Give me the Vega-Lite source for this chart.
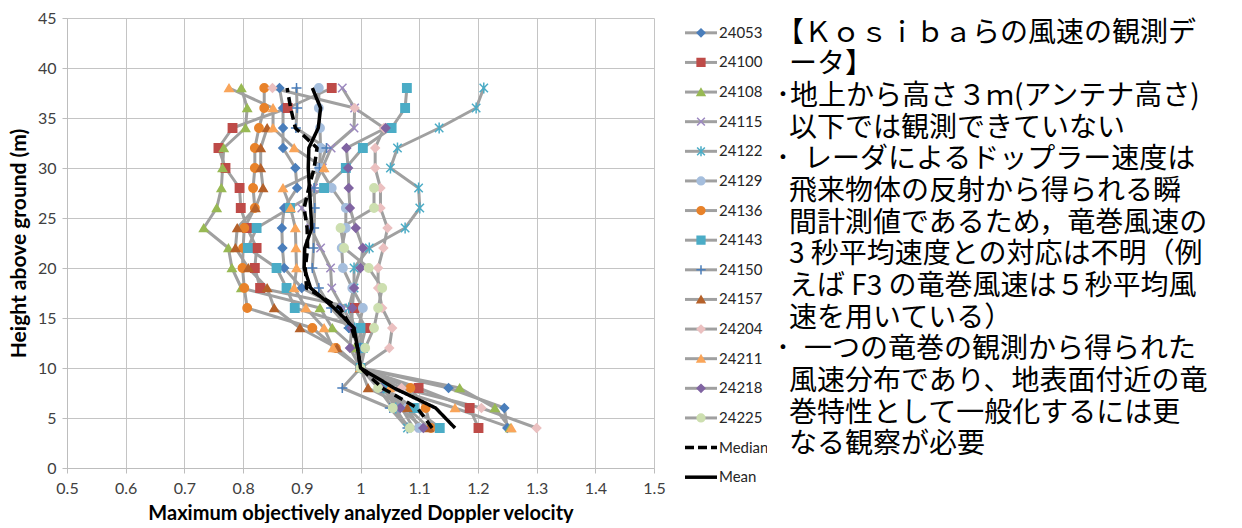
{
  "$schema": "https://vega.github.io/schema/vega-lite/v6.json",
  "padding": {"left": 8, "top": 10, "right": 0, "bottom": 0},
  "background": "white",
  "bounds": "flush",
  "spacing": 9,
  "config": {"view": {"stroke": null}, "font": "Lato"},
  "resolve": {"scale": {"x": "independent", "y": "independent", "shape": "independent", "fill": "independent", "stroke": "independent"}},
  "datasets": {
    "prof": [
      {"h":38,"24053":0.862,"24100":0.951,"24108":0.797,"24115":0.969,"24122":1.21,"24129":0.929,"24136":0.836,"24143":1.079,"24150":0.891,"24204":0.85,"24211":0.776,"Median":0.875,"Mean":0.918},
      {"h":36,"24053":0.868,"24100":0.876,"24108":0.807,"24115":0.99,"24122":1.197,"24129":0.929,"24136":0.836,"24143":1.076,"24150":0.892,"24204":0.99,"24211":0.851,"Median":0.881,"Mean":0.932},
      {"h":34,"24053":0.868,"24100":0.782,"24108":0.804,"24115":0.989,"24122":1.134,"24129":0.931,"24136":0.827,"24143":1.053,"24150":0.89,"24157":0.841,"24204":1.04,"24211":0.851,"24218":1.043,"Median":0.889,"Mean":0.928},
      {"h":32,"24053":0.868,"24100":0.758,"24108":0.767,"24115":0.95,"24122":1.063,"24129":0.932,"24136":0.82,"24143":1.004,"24150":0.942,"24157":0.83,"24204":1.025,"24211":0.887,"24218":0.976,"Median":0.926,"Mean":0.912},
      {"h":30,"24053":0.889,"24100":0.77,"24108":0.765,"24115":0.935,"24122":1.051,"24129":0.93,"24136":0.82,"24143":0.975,"24150":0.93,"24157":0.83,"24204":1.025,"24211":0.938,"24218":0.979,"Median":0.921,"Mean":0.911},
      {"h":28,"24053":0.892,"24100":0.794,"24108":0.763,"24115":0.92,"24122":1.099,"24129":0.951,"24136":0.817,"24143":0.938,"24150":0.921,"24157":0.834,"24204":1.034,"24211":0.868,"24218":0.98,"24225":1.023,"Median":0.912,"Mean":0.913},
      {"h":26,"24053":0.87,"24100":0.796,"24108":0.755,"24115":0.9,"24122":1.101,"24129":0.975,"24136":0.82,"24143":0.88,"24150":0.922,"24157":0.821,"24204":1.034,"24211":0.881,"24218":0.982,"24225":1.023,"Median":0.904,"Mean":0.915},
      {"h":24,"24053":0.866,"24100":0.807,"24108":0.733,"24115":0.915,"24122":1.076,"24129":0.975,"24136":0.802,"24143":0.823,"24150":0.921,"24157":0.79,"24204":1.046,"24211":0.889,"24218":0.992,"24225":0.966,"Median":0.909,"Mean":0.917},
      {"h":22,"24053":0.867,"24100":0.823,"24108":0.775,"24115":0.932,"24122":1.015,"24129":0.968,"24136":0.8,"24143":0.808,"24150":0.92,"24157":0.787,"24204":1.039,"24211":0.89,"24218":1.004,"24225":0.972,"Median":0.91,"Mean":0.905},
      {"h":20,"24053":0.87,"24100":0.82,"24108":0.781,"24115":0.949,"24122":0.989,"24129":0.97,"24136":0.799,"24143":0.857,"24150":0.918,"24157":0.809,"24204":1.03,"24211":0.891,"24218":1.0,"24225":1.014,"Median":0.906,"Mean":0.904},
      {"h":18,"24053":0.9,"24100":0.829,"24108":0.797,"24115":0.951,"24122":0.989,"24129":0.986,"24136":0.802,"24143":0.874,"24150":0.929,"24157":0.841,"24204":1.03,"24211":0.887,"24218":0.989,"24225":1.037,"Median":0.908,"Mean":0.915},
      {"h":16,"24053":0.965,"24100":0.99,"24108":0.931,"24115":0.97,"24122":0.98,"24129":1.004,"24136":0.807,"24143":0.888,"24150":0.95,"24157":0.853,"24204":1.037,"24211":0.907,"24218":0.986,"24225":1.03,"Median":0.965,"Mean":0.955},
      {"h":14,"24053":0.98,"24100":1.009,"24108":0.952,"24115":0.99,"24122":0.99,"24129":0.997,"24136":0.918,"24143":1.0,"24150":0.98,"24157":0.897,"24204":1.054,"24211":0.938,"24218":0.985,"24225":1.023,"Median":0.985,"Mean":0.989},
      {"h":12,"24053":1.0,"24100":1.0,"24108":0.99,"24115":1.0,"24122":1.0,"24129":1.004,"24136":0.958,"24143":1.004,"24150":1.0,"24157":0.96,"24204":1.049,"24211":0.953,"24218":0.982,"24225":1.008,"Median":0.995,"Mean":0.995},
      {"h":10,"24053":1,"24100":1,"24108":1,"24115":1,"24122":1,"24129":1,"24136":1,"24143":1,"24150":1,"24157":1,"24204":1,"24211":1,"24218":1,"24225":1,"Median":1,"Mean":1},
      {"h":8,"24053":1.15,"24100":1.099,"24108":1.169,"24115":1.04,"24122":1.04,"24129":1.04,"24136":1.085,"24143":1.04,"24150":0.969,"24157":1.013,"24204":1.07,"24211":1.05,"24218":1.035,"24225":1.03,"Median":1.037,"Mean":1.057},
      {"h":6,"24053":1.245,"24100":1.186,"24108":1.229,"24115":1.07,"24122":1.06,"24129":1.08,"24136":1.111,"24143":1.091,"24150":1.05,"24157":1.08,"24204":1.206,"24211":1.161,"24218":1.068,"24225":1.055,"Median":1.097,"Mean":1.128},
      {"h":4,"24053":1.25,"24100":1.201,"24108":1.255,"24115":1.09,"24122":1.08,"24129":1.1,"24136":1.12,"24143":1.135,"24150":1.08,"24157":1.117,"24204":1.3,"24211":1.257,"24218":1.107,"24225":1.084,"Median":1.122,"Mean":1.161}
    ],
    "leg": [
      {"s":"24053"},{"s":"24100"},{"s":"24108"},{"s":"24115"},{"s":"24122"},{"s":"24129"},{"s":"24136"},{"s":"24143"},{"s":"24150"},{"s":"24157"},{"s":"24204"},{"s":"24211"},{"s":"24218"},{"s":"24225"},{"s":"Median"},{"s":"Mean"}
    ],
    "txt": [
      {"n":1,"b":1,"t":"【Ｋｏｓｉｂａらの風速の観測デ"},
      {"n":2,"b":0,"t":"ータ】"},
      {"n":3,"b":1,"t":"･地上から高さ３ｍ(アンテナ高さ)"},
      {"n":4,"b":0,"t":"以下では観測できていない"},
      {"n":5,"b":1,"t":"･\u2002レーダによるドップラー速度は"},
      {"n":6,"b":0,"t":"飛来物体の反射から得られる瞬"},
      {"n":7,"b":0,"t":"間計測値であるため，竜巻風速の"},
      {"n":8,"b":0,"t":"3 秒平均速度との対応は不明（例"},
      {"n":9,"b":0,"t":"えば F3 の竜巻風速は５秒平均風"},
      {"n":10,"b":0,"t":"速を用いている）"},
      {"n":11,"b":1,"t":"･\u2002一つの竜巻の観測から得られた"},
      {"n":12,"b":0,"t":"風速分布であり、地表面付近の竜"},
      {"n":13,"b":0,"t":"巻特性として一般化するには更"},
      {"n":14,"b":0,"t":"なる観察が必要"}
    ]
  },
  "hconcat": [
    {
      "width": 587,
      "height": 450,
      "data": {"name": "prof"},
      "transform": [
        {"fold": ["24053","24100","24108","24115","24122","24129","24136","24143","24150","24157","24204","24211","24218","24225","Median","Mean"], "as": ["s","v"]},
        {"filter": "isValid(datum.v)"}
      ],
      "encoding": {
        "x": {"field": "v", "type": "quantitative",
          "scale": {"domain": [0.5, 1.5], "nice": false, "zero": false},
          "axis": {"values": [0.5,0.6,0.7,0.8,0.9,1,1.1,1.2,1.3,1.4,1.5], "format": ".1~f",
            "title": "Maximum objectively analyzed Doppler velocity",
            "titleFont": "Lato", "titleFontSize": 20, "titleFontWeight": "bold", "titleColor": "#000000", "titlePadding": 7,
            "labelFont": "Lato", "labelFontSize": 16, "labelColor": "#404040", "labelPadding": 7, "labelFlush": false,
            "tickSize": 5, "tickColor": "#bdbdbd", "domainColor": "#bdbdbd", "grid": true, "gridColor": "#c4c4c4"}},
        "y": {"field": "h", "type": "quantitative",
          "scale": {"domain": [0, 45], "nice": false},
          "axis": {"values": [0,5,10,15,20,25,30,35,40,45],
            "title": "Height above ground (m)",
            "titleFont": "Lato", "titleFontSize": 21, "titleFontWeight": "bold", "titleColor": "#000000", "titlePadding": 8,
            "labelFont": "Lato", "labelFontSize": 16, "labelColor": "#404040", "labelPadding": 6, "labelFlush": false,
            "tickSize": 5, "tickColor": "#bdbdbd", "domainColor": "#bdbdbd", "grid": true, "gridColor": "#c4c4c4"}}
      },
      "layer": [
        {
          "transform": [{"filter": "datum.s != 'Median' && datum.s != 'Mean'"}],
          "mark": {"type": "line", "color": "#a0a0a0", "strokeWidth": 3, "strokeJoin": "round", "strokeCap": "round"},
          "encoding": {"detail": {"field": "s"}, "order": {"field": "h"}}
        },
        {
          "transform": [{"filter": "datum.s != 'Median' && datum.s != 'Mean'"}],
          "mark": {"type": "point", "filled": true, "opacity": 1, "size": 70, "strokeWidth": 1.5},
          "encoding": {
            "shape": {"field": "s", "type": "nominal", "legend": null, "scale": {
              "domain": ["24053","24100","24108","24115","24122","24129","24136","24143","24150","24157","24204","24211","24218","24225"],
              "range": ["diamond","square","triangle-up","M-1,-1L1,1M-1,1L1,-1","M-1,-1L1,1M-1,1L1,-1M0,-1.3L0,1.3","circle","circle","square","M-1.2,0L1.2,0M0,-1.2L0,1.2","triangle-up","diamond","triangle-up","diamond","circle"]}},
            "fill": {"field": "s", "type": "nominal", "legend": null, "scale": {
              "domain": ["24053","24100","24108","24115","24122","24129","24136","24143","24150","24157","24204","24211","24218","24225"],
              "range": ["#4a7ebb","#be4b48","#98b954","#9c88c0","#4bacc6","#a5bedd","#e8822a","#4bacc6","#4a7ebb","#b5612a","#ebc0c0","#f9a55a","#8064a2","#cddfb0"]}},
            "stroke": {"field": "s", "type": "nominal", "legend": null, "scale": {
              "domain": ["24053","24100","24108","24115","24122","24129","24136","24143","24150","24157","24204","24211","24218","24225"],
              "range": ["#4a7ebb","#be4b48","#98b954","#9c88c0","#4bacc6","#a5bedd","#e8822a","#4bacc6","#4a7ebb","#b5612a","#ebc0c0","#f9a55a","#8064a2","#cddfb0"]}}
          }
        },
        {
          "transform": [{"filter": "datum.s == 'Median' || datum.s == 'Mean'"}],
          "mark": {"type": "line", "color": "#000000", "strokeWidth": 3.5, "strokeJoin": "round"},
          "encoding": {
            "detail": {"field": "s"},
            "order": {"field": "h"},
            "strokeDash": {"field": "s", "type": "nominal", "legend": null, "scale": {"domain": ["Median","Mean"], "range": [[9,5],[1,0]]}}
          }
        }
      ]
    },
    {
      "width": 104,
      "height": 474,
      "data": {"name": "leg"},
      "encoding": {
        "y": {"field": "s", "type": "nominal", "sort": null, "axis": null,
          "scale": {"type": "point", "padding": 0.5,
            "domain": ["24053","24100","24108","24115","24122","24129","24136","24143","24150","24157","24204","24211","24218","24225","Median","Mean"]}}
      },
      "layer": [
        {
          "transform": [{"filter": "datum.s != 'Median' && datum.s != 'Mean'"}],
          "mark": {"type": "rule", "color": "#a0a0a0", "strokeWidth": 3},
          "encoding": {"x": {"datum": 22, "type": "quantitative", "scale": {"domain": [0, 104]}, "axis": null}, "x2": {"datum": 54}}
        },
        {
          "transform": [{"filter": "datum.s == 'Median'"}],
          "mark": {"type": "rule", "color": "#000000", "strokeWidth": 3.5, "strokeDash": [9, 4]},
          "encoding": {"x": {"datum": 22, "type": "quantitative", "scale": {"domain": [0, 104]}, "axis": null}, "x2": {"datum": 54}}
        },
        {
          "transform": [{"filter": "datum.s == 'Mean'"}],
          "mark": {"type": "rule", "color": "#000000", "strokeWidth": 3.5},
          "encoding": {"x": {"datum": 22, "type": "quantitative", "scale": {"domain": [0, 104]}, "axis": null}, "x2": {"datum": 54}}
        },
        {
          "transform": [{"filter": "datum.s != 'Median' && datum.s != 'Mean'"}],
          "mark": {"type": "point", "filled": true, "opacity": 1, "size": 60, "strokeWidth": 1.5},
          "encoding": {
            "x": {"datum": 38, "type": "quantitative", "scale": {"domain": [0, 104]}, "axis": null},
            "shape": {"field": "s", "type": "nominal", "legend": null, "scale": {
              "domain": ["24053","24100","24108","24115","24122","24129","24136","24143","24150","24157","24204","24211","24218","24225"],
              "range": ["diamond","square","triangle-up","M-1,-1L1,1M-1,1L1,-1","M-1,-1L1,1M-1,1L1,-1M0,-1.3L0,1.3","circle","circle","square","M-1.2,0L1.2,0M0,-1.2L0,1.2","triangle-up","diamond","triangle-up","diamond","circle"]}},
            "fill": {"field": "s", "type": "nominal", "legend": null, "scale": {
              "domain": ["24053","24100","24108","24115","24122","24129","24136","24143","24150","24157","24204","24211","24218","24225"],
              "range": ["#4a7ebb","#be4b48","#98b954","#9c88c0","#4bacc6","#a5bedd","#e8822a","#4bacc6","#4a7ebb","#b5612a","#ebc0c0","#f9a55a","#8064a2","#cddfb0"]}},
            "stroke": {"field": "s", "type": "nominal", "legend": null, "scale": {
              "domain": ["24053","24100","24108","24115","24122","24129","24136","24143","24150","24157","24204","24211","24218","24225"],
              "range": ["#4a7ebb","#be4b48","#98b954","#9c88c0","#4bacc6","#a5bedd","#e8822a","#4bacc6","#4a7ebb","#b5612a","#ebc0c0","#f9a55a","#8064a2","#cddfb0"]}}
          }
        },
        {
          "mark": {"type": "text", "align": "left", "baseline": "middle", "font": "Lato", "fontSize": 15, "color": "#262626", "clip": true},
          "encoding": {
            "x": {"datum": 56, "type": "quantitative", "scale": {"domain": [0, 104]}, "axis": null},
            "text": {"field": "s"}
          }
        }
      ]
    },
    {
      "width": 450,
      "height": 443,
      "data": {"name": "txt"},
      "encoding": {
        "y": {"field": "n", "type": "ordinal", "axis": null,
          "scale": {"type": "point", "padding": 0.5, "domain": [1,2,3,4,5,6,7,8,9,10,11,12,13,14]}}
      },
      "layer": [
        {
          "transform": [{"filter": "datum.b == 1"}],
          "mark": {"type": "text", "align": "left", "baseline": "middle", "font": "Noto Sans CJK JP", "fontSize": 28, "color": "#000000"},
          "encoding": {
            "x": {"datum": 0, "type": "quantitative", "scale": {"domain": [0, 450]}, "axis": null},
            "text": {"field": "t"}
          }
        },
        {
          "transform": [{"filter": "datum.b == 0"}],
          "mark": {"type": "text", "align": "left", "baseline": "middle", "font": "Noto Sans CJK JP", "fontSize": 28, "color": "#000000"},
          "encoding": {
            "x": {"datum": 13, "type": "quantitative", "scale": {"domain": [0, 450]}, "axis": null},
            "text": {"field": "t"}
          }
        }
      ]
    }
  ]
}
